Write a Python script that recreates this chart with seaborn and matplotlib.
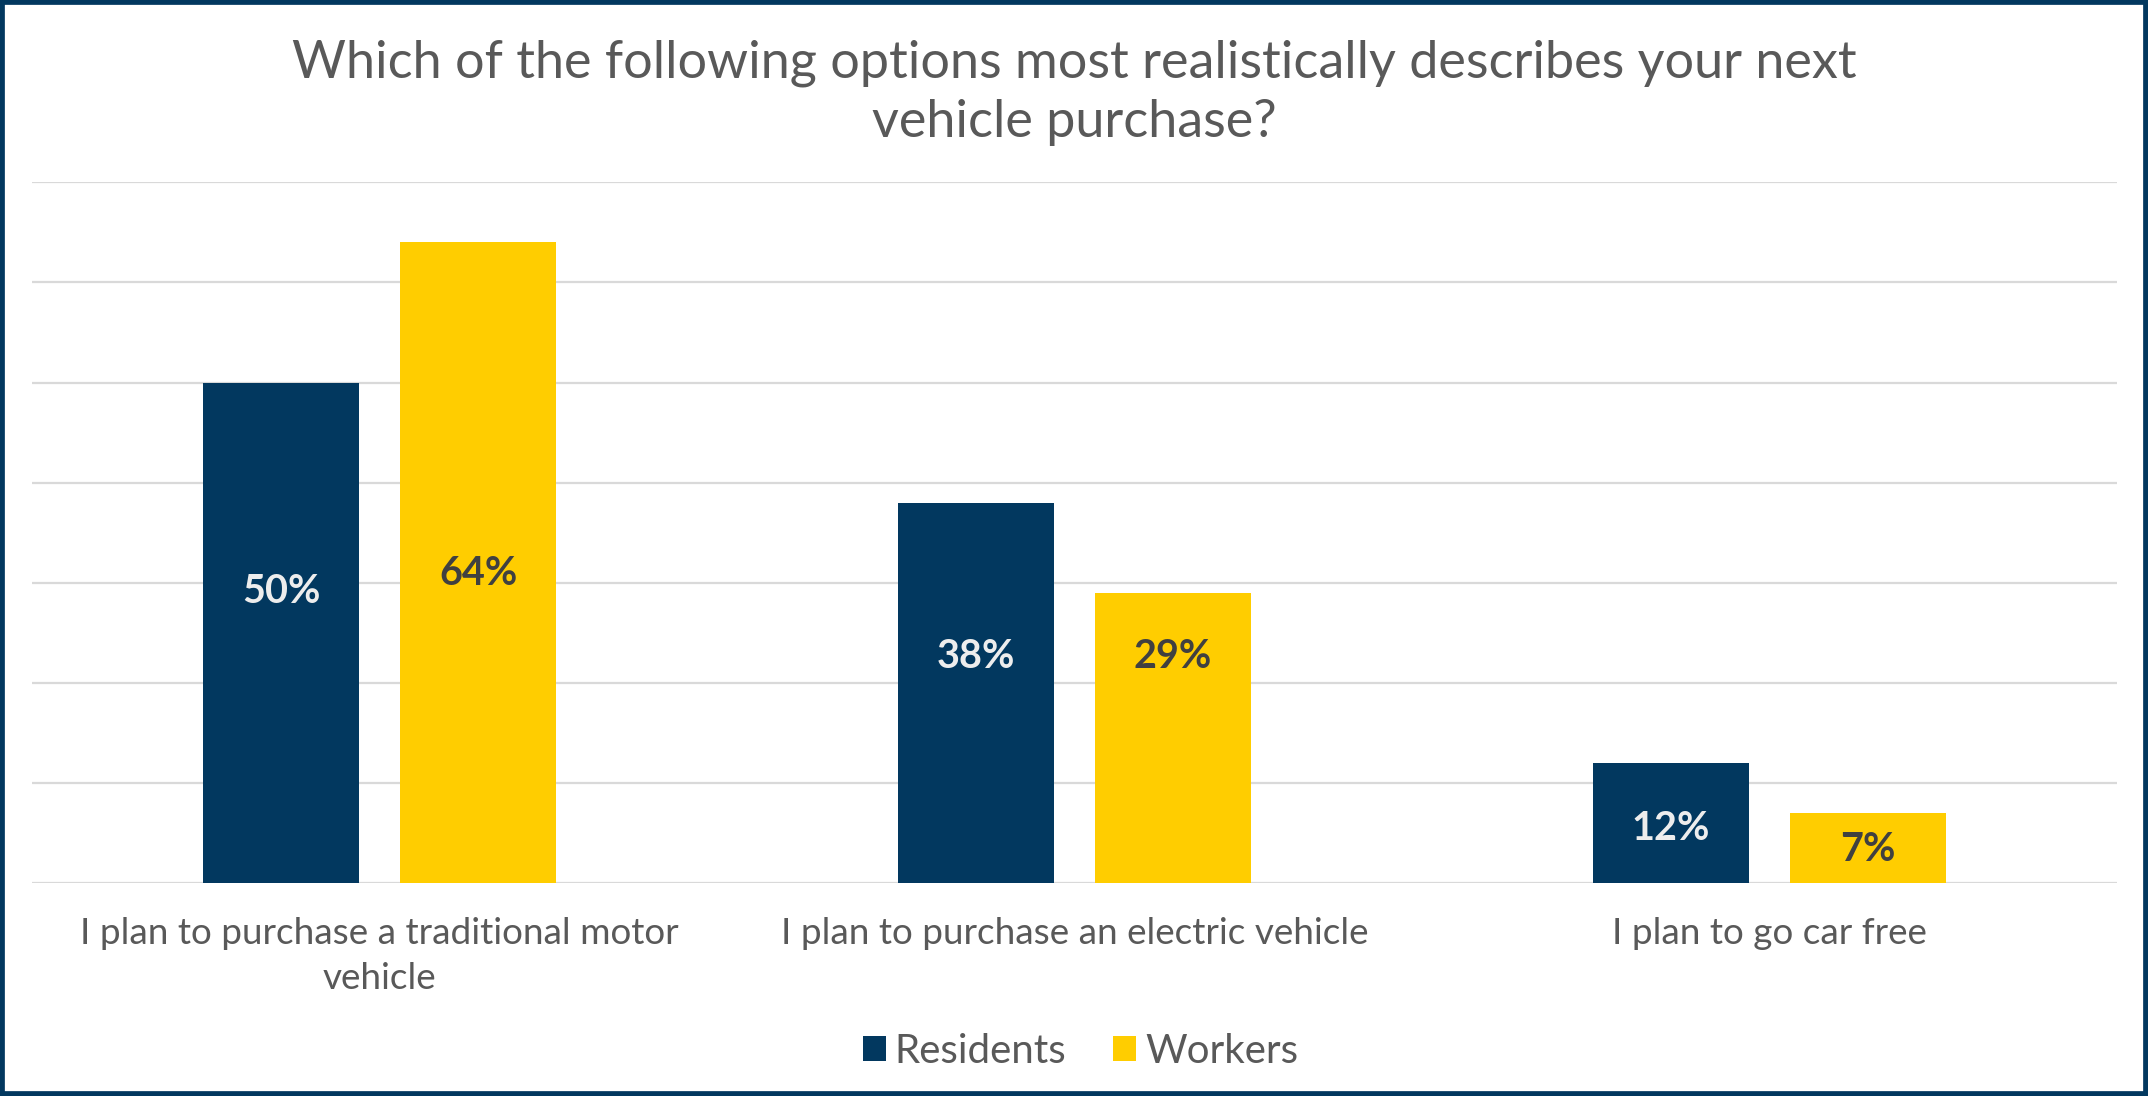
import matplotlib
matplotlib.use("Agg")
import matplotlib.pyplot as plt
import seaborn as sns
import pandas as pd
from matplotlib.patches import Patch, Rectangle

# ---- data ----
categories = [
    "I plan to purchase a traditional motor\nvehicle",
    "I plan to purchase an electric vehicle",
    "I plan to go car free",
]
series = ["Residents", "Workers"]
residents = [50, 38, 12]
workers = [64, 29, 7]
# vertical anchor of the value labels (in % units, as placed in the original)
label_y_residents = [29.1, 22.6, 5.5]
label_y_workers = [30.9, 22.6, 3.4]

title = "Which of the following options most realistically describes your next\nvehicle purchase?"

NAVY = "#02385F"
YELLOW = "#FFCD00"
GREY_TXT = "#595959"
GRID = "#D9D9D9"

df = pd.DataFrame({
    "category": categories * 2,
    "group": [series[0]] * 3 + [series[1]] * 3,
    "value": residents + workers,
})

sns.set_theme(style="white")
plt.rcParams["font.family"] = ["Lato", "DejaVu Sans"]

fig = plt.figure(figsize=(21.48, 10.96), dpi=100)
ax = fig.add_axes([0.0149, 0.194, 0.9707, 0.6398])

sns.barplot(data=df, x="category", y="value", hue="group", order=categories,
            hue_order=series, palette=[NAVY, YELLOW], width=0.567, gap=0.21,
            saturation=1, legend=False, ax=ax, linewidth=0)

ax.set_ylim(0, 70)
ax.set_xlim(-0.5, 2.5)
ax.set_yticks(range(0, 71, 10))
ax.yaxis.grid(True, color=GRID, linewidth=1.6)
ax.set_axisbelow(True)
ax.set_yticklabels([])
ax.set_xlabel("")
ax.set_ylabel("")
for s in ax.spines.values():
    s.set_visible(False)
ax.tick_params(axis="both", length=0)
ax.tick_params(axis="x", pad=24, labelsize=26.6, labelcolor=GREY_TXT)
for t in ax.get_xticklabels():
    t.set_linespacing(1.44)

# value labels
label_sets = [(residents, label_y_residents, "#EDEDED"), (workers, label_y_workers, "#404040")]
for cont, (vals, ys, col) in zip(ax.containers, label_sets):
    for bar, v, y in zip(cont, vals, ys):
        ax.text(bar.get_x() + bar.get_width() / 2, y, f"{v}%", ha="center", va="center",
                fontsize=28.5, fontweight="bold", color=col)

# title
fig.text(0.5, 0.9156, title, ha="center", va="center", fontsize=37.5, color=GREY_TXT,
         linespacing=1.32)

# legend
handles = [Patch(facecolor=NAVY, edgecolor="none"), Patch(facecolor=YELLOW, edgecolor="none")]
leg = fig.legend(handles, series, loc="center", bbox_to_anchor=(0.503, 0.041), ncol=2,
                 frameon=False, fontsize=29, handlelength=0.58, handleheight=0.58,
                 handletextpad=0.22, columnspacing=1.15)
for t in leg.get_texts():
    t.set_color(GREY_TXT)

# outer border
fig.patches.append(Rectangle((0, 0), 1, 1, transform=fig.transFigure, fill=False,
                             edgecolor=NAVY, linewidth=7, zorder=10))

fig.savefig("out.png", dpi=100, facecolor="white")
